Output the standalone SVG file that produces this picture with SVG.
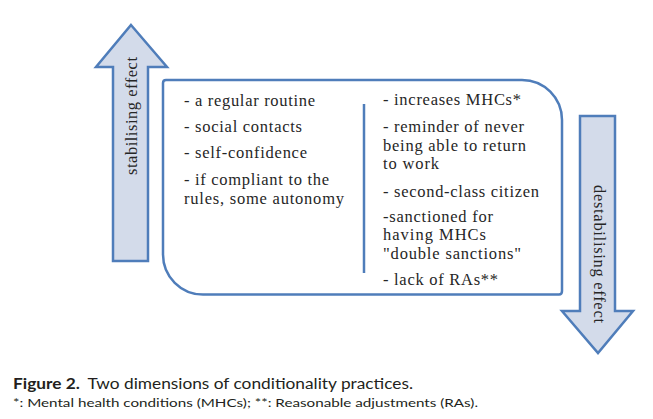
<svg xmlns="http://www.w3.org/2000/svg" width="653" height="419" viewBox="0 0 653 419">
<style>
.bg{fill:#ffffff}
.arrow{fill:#d3dbea;stroke:#4f7dba;stroke-width:2.5;stroke-linejoin:miter}
.box{fill:#ffffff;stroke:#4f7dba;stroke-width:2.5}
.div{stroke:#4f7dba;stroke-width:2.5}
.t{font-family:'Liberation Serif','Times New Roman',Times,serif;font-size:16.5px;fill:#262626}
.cap1{font-family:Lato,'Open Sans','Liberation Sans',sans-serif;font-size:15.5px;fill:#231f20}
.cap2{font-family:Lato,'Open Sans','Liberation Sans',sans-serif;font-size:12px;fill:#231f20}
</style>
<rect class="bg" x="0" y="0" width="653" height="419"/>
<g id="stabilising-arrow">
<polygon class="arrow" points="131,25 167,67 148,67 148,261 113,261 113,67 96,67"/>
<text class="t" transform="translate(137,116) rotate(-90)" text-anchor="middle" textLength="118" lengthAdjust="spacing">stabilising effect</text>
</g>
<g id="destabilising-arrow">
<polygon class="arrow" points="580,116 615,116 615,311 633,311 598,353 562,311 580,311"/>
<text class="t" transform="translate(594,254) rotate(90)" text-anchor="middle" textLength="138" lengthAdjust="spacing">destabilising effect</text>
</g>
<g id="practices-box">
<path class="box" d="M166,80 H522 A40,40 0 0 1 562,120 V291 Q562,294.5 559,294.5 H203 A40,40 0 0 1 163,254.5 V83 Q163,80 166,80 Z"/>
</g>
<g id="divider">
<line class="div" x1="364" y1="104" x2="364" y2="273"/>
</g>
<g id="stabilising-list">
<text class="t" x="184" y="106" textLength="131" lengthAdjust="spacing">- a regular routine</text>
<text class="t" x="184" y="132" textLength="118" lengthAdjust="spacing">- social contacts</text>
<text class="t" x="184" y="158" textLength="123" lengthAdjust="spacing">- self-confidence</text>
<text class="t" x="184" y="185" textLength="145" lengthAdjust="spacing">- if compliant to the</text>
<text class="t" x="184" y="204" textLength="160" lengthAdjust="spacing">rules, some autonomy</text>
</g>
<g id="destabilising-list">
<text class="t" x="383" y="105" textLength="138" lengthAdjust="spacing">- increases MHCs*</text>
<text class="t" x="383" y="132" textLength="141" lengthAdjust="spacing">- reminder of never</text>
<text class="t" x="383" y="151" textLength="143" lengthAdjust="spacing">being able to return</text>
<text class="t" x="383" y="169" textLength="56" lengthAdjust="spacing">to work</text>
<text class="t" x="383" y="197" textLength="156" lengthAdjust="spacing">- second-class citizen</text>
<text class="t" x="383" y="222" textLength="110" lengthAdjust="spacing">-sanctioned for</text>
<text class="t" x="383" y="240" textLength="103" lengthAdjust="spacing">having MHCs</text>
<text class="t" x="383" y="259" textLength="138" lengthAdjust="spacing">"double sanctions"</text>
<text class="t" x="383" y="285" textLength="115" lengthAdjust="spacing">- lack of RAs**</text>
</g>
<g id="caption">
<text class="cap1" x="13" y="389" textLength="400" lengthAdjust="spacingAndGlyphs"><tspan font-weight="bold">Figure 2.</tspan><tspan dx="7">Two dimensions of conditionality practices.</tspan></text>
<text class="cap2" x="13" y="407" textLength="465" lengthAdjust="spacingAndGlyphs">*: Mental health conditions (MHCs); **: Reasonable adjustments (RAs).</text>
</g>
</svg>
